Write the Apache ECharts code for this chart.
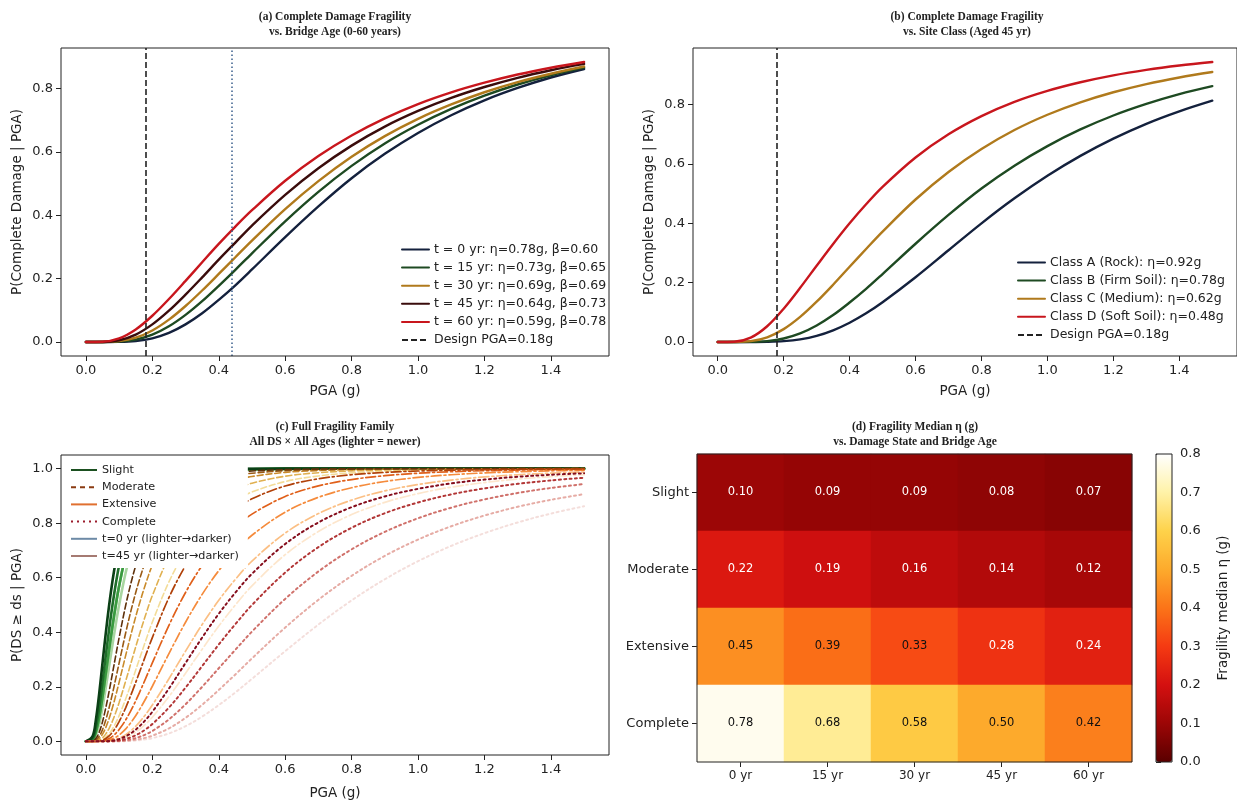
<!DOCTYPE html>
<html><head><meta charset="utf-8">
<script src="https://cdn.jsdelivr.net/npm/echarts@6/dist/echarts.min.js"></script>
<style>html,body{margin:0;padding:0;background:#fff}#c{width:1237px;height:801px}</style>
</head><body><div id="c"></div>
<script>
// ---------------- DATA ----------------
const PGA_AB = [0, 0.05, 0.10, 0.15, 0.20, 0.25, 0.30, 0.35, 0.40, 0.45, 0.50, 0.60, 0.70, 0.80, 0.90, 1.00, 1.10, 1.20, 1.30, 1.40, 1.50];
const X_TICKS = [0, 0.2, 0.4, 0.6, 0.8, 1.0, 1.2, 1.4];
const DESIGN_PGA = 0.18;
const REF_PGA = 0.44;

// (a) age curves
const AGE_LABELS_A = ['t = 0 yr: η=0.78g, β=0.60', 't = 15 yr: η=0.73g, β=0.65', 't = 30 yr: η=0.69g, β=0.69', 't = 45 yr: η=0.64g, β=0.73', 't = 60 yr: η=0.59g, β=0.78'];
const A_T0  = [0, 0.0000, 0.0003, 0.003, 0.0117, 0.0288, 0.0556, 0.0907, 0.133, 0.179, 0.229, 0.331, 0.428, 0.517, 0.594, 0.660, 0.716, 0.763, 0.802, 0.835, 0.862];
const A_T15 = [0, 0.0000, 0.0011, 0.0075, 0.0233, 0.0497, 0.0857, 0.129, 0.1775, 0.228, 0.280, 0.381, 0.474, 0.556, 0.627, 0.686, 0.736, 0.778, 0.813, 0.842, 0.866];
const A_T30 = [0, 0.0001, 0.0026, 0.0135, 0.0364, 0.0706, 0.1137, 0.1626, 0.2148, 0.2676, 0.320, 0.4196, 0.508, 0.585, 0.650, 0.7046, 0.750, 0.7885, 0.8205, 0.847, 0.8697];
const A_T45 = [0, 0.0002, 0.0055, 0.0234, 0.0556, 0.0989, 0.1496, 0.204, 0.260, 0.314, 0.3677, 0.4645, 0.5485, 0.620, 0.680, 0.7294, 0.7707, 0.805, 0.834, 0.858, 0.878];
const A_T60 = [0, 0.0008, 0.0114, 0.0396, 0.0829, 0.1357, 0.193, 0.2517, 0.3096, 0.3643, 0.416, 0.509, 0.587, 0.652, 0.706, 0.751, 0.788, 0.8186, 0.8445, 0.866, 0.884];

// (b) site classes
const SITE_LABELS = ['Class A (Rock): η=0.92g', 'Class B (Firm Soil): η=0.78g', 'Class C (Medium): η=0.62g', 'Class D (Soft Soil): η=0.48g'];
const B_A = [0, 0, 0.0000, 0.0005, 0.0028, 0.0089, 0.0207, 0.0394, 0.065, 0.0966, 0.1337, 0.218, 0.309, 0.3997, 0.484, 0.560, 0.627, 0.685, 0.735, 0.777, 0.813];
const B_B = [0, 0.0000, 0.0003, 0.003, 0.0117, 0.0288, 0.0556, 0.0907, 0.133, 0.179, 0.229, 0.331, 0.428, 0.517, 0.594, 0.660, 0.716, 0.763, 0.802, 0.835, 0.862];
const B_C = [0, 0.0001, 0.0028, 0.0158, 0.0433, 0.0844, 0.1357, 0.193, 0.2534, 0.3134, 0.372, 0.480, 0.5727, 0.650, 0.714, 0.7655, 0.8073, 0.8413, 0.8689, 0.8912, 0.9096];
const B_D = [0, 0.0008, 0.0147, 0.0531, 0.1122, 0.1825, 0.2569, 0.3303, 0.400, 0.464, 0.5227, 0.6217, 0.6998, 0.761, 0.809, 0.846, 0.875, 0.8983, 0.9167, 0.9314, 0.9432];

// (c) full family
const PGA_C = [0, 0.02, 0.03, 0.04, 0.05, 0.06, 0.07, 0.08, 0.09, 0.10, 0.12, 0.14, 0.16, 0.18, 0.20, 0.25, 0.30, 0.35, 0.40, 0.45, 0.50, 0.60, 0.70, 0.80, 0.90, 1.00, 1.10, 1.20, 1.30, 1.40, 1.50];
const Y_TICKS_C = [0, 0.2, 0.4, 0.6, 0.8, 1.0];
const SLIGHT_T0  = [0, 0.0037, 0.0224, 0.0634, 0.124, 0.198, 0.276, 0.355, 0.430, 0.5, 0.620, 0.7126, 0.783, 0.8365, 0.876, 0.937, 0.9665, 0.9816, 0.9896, 0.9939, 0.9964, 0.9986, 0.9994, 0.9997, 0.9999, 0.9999, 1, 1, 1, 1, 1];
const SLIGHT_T15 = [0, 0.0061, 0.0335, 0.0882, 0.1635, 0.250, 0.3376, 0.422, 0.5, 0.5695, 0.6844, 0.769, 0.831, 0.876, 0.9084, 0.9557, 0.9776, 0.9882, 0.9935, 0.9963, 0.9979, 0.9992, 0.9997, 0.9999, 1, 1, 1, 1, 1, 1, 1];
const SLIGHT_T30 = [0, 0.0061, 0.0335, 0.0882, 0.1635, 0.250, 0.3376, 0.422, 0.5, 0.5695, 0.6844, 0.769, 0.831, 0.876, 0.9084, 0.9557, 0.9776, 0.9882, 0.9935, 0.9963, 0.9979, 0.9992, 0.9997, 0.9999, 1, 1, 1, 1, 1, 1, 1];
const SLIGHT_T45 = [0, 0.0104, 0.051, 0.124, 0.2168, 0.3163, 0.412, 0.5, 0.578, 0.645, 0.751, 0.8246, 0.876, 0.9118, 0.9367, 0.9713, 0.9862, 0.9931, 0.9964, 0.998, 0.9989, 0.9996, 0.9999, 1, 1, 1, 1, 1, 1, 1, 1];
const SLIGHT_T60 = [0, 0.0184, 0.0788, 0.1754, 0.2874, 0.399, 0.5, 0.588, 0.6624, 0.7237, 0.8157, 0.876, 0.9157, 0.9422, 0.960, 0.983, 0.9923, 0.9963, 0.9982, 0.999, 0.9995, 0.9999, 1, 1, 1, 1, 1, 1, 1, 1, 1];
const MODERATE_T0  = [0, 0.0000, 0.0004, 0.0022, 0.0068, 0.0152, 0.0282, 0.0459, 0.0682, 0.0944, 0.1565, 0.2257, 0.2977, 0.3692, 0.4372, 0.5847, 0.6974, 0.7805, 0.8406, 0.8834, 0.9145, 0.9527, 0.9731, 0.9843, 0.9906, 0.9942, 0.9964, 0.9977, 0.9985, 0.999, 0.9993];
const MODERATE_T15 = [0, 0.0001, 0.001, 0.0047, 0.013, 0.0274, 0.048, 0.0746, 0.1066, 0.1423, 0.2221, 0.3054, 0.387, 0.4641, 0.5343, 0.6765, 0.7767, 0.8457, 0.8927, 0.9245, 0.9466, 0.9723, 0.9851, 0.9917, 0.9952, 0.9972, 0.9983, 0.9989, 0.9993, 0.9996, 0.9997];
const MODERATE_T30 = [0, 0.0003, 0.0026, 0.0104, 0.0263, 0.0512, 0.0843, 0.124, 0.169, 0.2168, 0.3163, 0.4122, 0.5, 0.578, 0.6454, 0.7719, 0.8527, 0.9041, 0.9367, 0.9576, 0.9713, 0.9862, 0.9931, 0.9964, 0.998, 0.9989, 0.9993, 0.9996, 0.9997, 0.9998, 0.9999];
const MODERATE_T45 = [0, 0.0006, 0.0051, 0.0184, 0.0431, 0.0791, 0.124, 0.1754, 0.2309, 0.2874, 0.399, 0.5, 0.588, 0.6624, 0.7241, 0.8332, 0.898, 0.9366, 0.960, 0.9741, 0.9831, 0.9923, 0.9963, 0.9982, 0.999, 0.9995, 0.9997, 0.9998, 0.9999, 0.9999, 1];
const MODERATE_T60 = [0, 0.0014, 0.0104, 0.0335, 0.0721, 0.124, 0.1843, 0.2492, 0.3156, 0.3802, 0.5, 0.601, 0.6837, 0.7502, 0.8026, 0.8893, 0.9365, 0.9627, 0.9776, 0.9861, 0.9913, 0.9963, 0.9983, 0.9992, 0.9996, 0.9998, 0.9999, 0.9999, 1, 1, 1];
const EXTENSIVE_T0  = [0, 0, 0, 0, 0.0001, 0.0004, 0.001, 0.002, 0.0037, 0.0061, 0.0139, 0.0259, 0.0424, 0.0635, 0.0885, 0.164, 0.2498, 0.338, 0.4227, 0.5, 0.5702, 0.6844, 0.7694, 0.8315, 0.8764, 0.9086, 0.932, 0.949, 0.9616, 0.9708, 0.9777];
const EXTENSIVE_T15 = [0, 0, 0, 0.0001, 0.0003, 0.0009, 0.0021, 0.0041, 0.0073, 0.0117, 0.0248, 0.0439, 0.0688, 0.0989, 0.1331, 0.2296, 0.331, 0.4286, 0.5172, 0.594, 0.661, 0.7636, 0.8352, 0.8845, 0.9185, 0.9418, 0.9581, 0.9695, 0.9776, 0.9835, 0.9876];
const EXTENSIVE_T30 = [0, 0, 0, 0.0002, 0.0008, 0.0023, 0.0049, 0.0091, 0.0152, 0.0233, 0.046, 0.0765, 0.1137, 0.1562, 0.2021, 0.322, 0.4368, 0.539, 0.6259, 0.6971, 0.7558, 0.8404, 0.8949, 0.930, 0.9528, 0.9677, 0.9776, 0.9843, 0.9888, 0.992, 0.9942];
const EXTENSIVE_T45 = [0, 0, 0.0001, 0.0006, 0.002, 0.0051, 0.0104, 0.0184, 0.0293, 0.0431, 0.0791, 0.124, 0.1754, 0.2309, 0.2877, 0.4254, 0.5458, 0.645, 0.7241, 0.7852, 0.8332, 0.898, 0.9366, 0.960, 0.9742, 0.9831, 0.9887, 0.9923, 0.9948, 0.9964, 0.9974];
const EXTENSIVE_T60 = [0, 0, 0.0003, 0.0014, 0.0045, 0.0104, 0.02, 0.0335, 0.051, 0.0721, 0.124, 0.1843, 0.2492, 0.3156, 0.3806, 0.5271, 0.6447, 0.735, 0.8026, 0.8522, 0.8893, 0.9365, 0.9627, 0.9776, 0.9862, 0.9913, 0.9944, 0.9963, 0.9976, 0.9984, 0.9989];
const COMPLETE_T0  = [0, 0, 0, 0, 0, 0, 0, 0.0001, 0.0002, 0.0003, 0.0009, 0.0021, 0.0041, 0.0073, 0.0117, 0.029, 0.0556, 0.0908, 0.1329, 0.1793, 0.2293, 0.3307, 0.4282, 0.5168, 0.5944, 0.6606, 0.7167, 0.7633, 0.8026, 0.8352, 0.8621];
const COMPLETE_T15 = [0, 0, 0, 0, 0, 0, 0.0001, 0.0002, 0.0004, 0.0007, 0.0019, 0.0042, 0.0079, 0.0134, 0.0207, 0.0478, 0.0863, 0.1342, 0.1884, 0.2454, 0.3043, 0.4172, 0.5191, 0.6068, 0.6801, 0.7399, 0.7887, 0.828, 0.86, 0.8857, 0.9064];
const COMPLETE_T30 = [0, 0, 0, 0, 0, 0.0001, 0.0002, 0.0005, 0.001, 0.0017, 0.0043, 0.0089, 0.0159, 0.0256, 0.038, 0.0805, 0.1359, 0.1999, 0.268, 0.3358, 0.4025, 0.5223, 0.6229, 0.704, 0.7682, 0.818, 0.857, 0.887, 0.9107, 0.9291, 0.9434];
const COMPLETE_T45 = [0, 0, 0, 0, 0.0001, 0.0002, 0.0005, 0.0011, 0.0021, 0.0036, 0.0087, 0.0169, 0.0287, 0.0443, 0.0634, 0.124, 0.1971, 0.2759, 0.355, 0.4298, 0.5, 0.619, 0.7123, 0.7832, 0.8365, 0.876, 0.9056, 0.9276, 0.9443, 0.9569, 0.9665];
const COMPLETE_T60 = [0, 0, 0, 0, 0.0002, 0.0006, 0.0014, 0.0029, 0.0051, 0.0084, 0.0184, 0.0336, 0.0538, 0.079, 0.1082, 0.1938, 0.2874, 0.3806, 0.4677, 0.5454, 0.6145, 0.7237, 0.8026, 0.8586, 0.8981, 0.9259, 0.9458, 0.9599, 0.9702, 0.9776, 0.9831];
const C_LEGEND = ['Slight', 'Moderate', 'Extensive', 'Complete', 't=0 yr (lighter→darker)', 't=45 yr (lighter→darker)'];

// (d) medians
const DS_LABELS = ['Slight', 'Moderate', 'Extensive', 'Complete'];
const AGE_LABELS = ['0 yr', '15 yr', '30 yr', '45 yr', '60 yr'];
const ETA_SLIGHT    = [0.10, 0.09, 0.09, 0.08, 0.07];
const ETA_MODERATE  = [0.22, 0.19, 0.16, 0.14, 0.12];
const ETA_EXTENSIVE = [0.45, 0.39, 0.33, 0.28, 0.24];
const ETA_COMPLETE  = [0.78, 0.68, 0.58, 0.50, 0.42];
const CB_MIN = 0, CB_MAX = 0.8, CB_STEP = 0.1;

// ---------------- STYLE ----------------
const FONT = 'DejaVu Sans';
const INK = '#222';
const A_COLORS = ['#14213d', '#1e4a22', '#b07a1c', '#3a0c0c', '#c8161d'];
const B_COLORS = ['#14213d', '#1e4a22', '#b07a1c', '#c8161d'];
const C_STYLE = {
  Slight:    {colors: ['#a8d5a0', '#6fbf6a', '#3a9a40', '#1f6e2a', '#0b4016'], type: 'solid', width: 2.6},
  Moderate:  {colors: ['#f3dc98', '#e0b050', '#c98a2a', '#9a5a14', '#5e300a'], type: [6, 3], width: 1.6},
  Extensive: {colors: ['#fde6cc', '#fbbf84', '#f58b3c', '#e0601a', '#b04008'], type: [10, 3, 2, 3], width: 1.7},
  Complete:  {colors: ['#f4dedb', '#e6aca5', '#d0716b', '#b23636', '#850d1c'], type: [2, 3.3], width: 2}
};
const HEAT_COLORS = ['#5a0000', '#9c0606', '#d41010', '#f53a12', '#fb7418', '#fdaa2c', '#fed24a', '#fff2a8', '#ffffff'];

// ---------------- BUILD ----------------
const pairs = (xs, ys) => xs.map((x, i) => [x, ys[i]]);
const fmt1 = v => v.toFixed(1);

function valueAxis(gi, min, max, ticks, name, gap) {
  return {
    type: 'value', gridIndex: gi, min: min, max: max,
    axisLine: {show: false, onZero: false},
    axisTick: {show: true, customValues: ticks, length: 5, lineStyle: {color: INK}},
    axisLabel: {customValues: ticks, formatter: fmt1, fontSize: 13, color: INK, margin: 8, fontFamily: FONT},
    splitLine: {show: false},
    name: name, nameLocation: 'middle', nameGap: gap,
    nameTextStyle: {fontSize: 13.5, color: INK, fontFamily: FONT}
  };
}

const grids = [
  {left: 61, top: 48, width: 548, height: 308},
  {left: 693, top: 48, width: 548, height: 308},
  {left: 61, top: 455, width: 548, height: 306},
  {left: 697, top: 454, width: 435, height: 308},
  {left: 1156, top: 454, width: 16, height: 308}
].map(g => Object.assign({show: true, borderColor: INK, borderWidth: 1, backgroundColor: 'transparent', z: 10}, g));

const xAxes = [
  valueAxis(0, -0.075, 1.575, X_TICKS, 'PGA (g)', 28),
  valueAxis(1, -0.075, 1.575, X_TICKS, 'PGA (g)', 28),
  valueAxis(2, -0.075, 1.575, X_TICKS, 'PGA (g)', 31),
  {type: 'category', gridIndex: 3, data: AGE_LABELS, axisLine: {show: false},
   axisTick: {show: true, alignWithLabel: true, length: 5, lineStyle: {color: INK}},
   axisLabel: {fontSize: 12, color: INK, margin: 8, fontFamily: FONT}, splitLine: {show: false}},
  {type: 'value', gridIndex: 4, min: 0, max: 1, show: false}
];
const yAxes = [
  valueAxis(0, -0.0442, 0.9282, [0, 0.2, 0.4, 0.6, 0.8], 'P(Complete Damage | PGA)', 37),
  valueAxis(1, -0.0472, 0.9904, [0, 0.2, 0.4, 0.6, 0.8], 'P(Complete Damage | PGA)', 37),
  valueAxis(2, -0.05, 1.05, Y_TICKS_C, 'P(DS ≥ ds | PGA)', 37),
  {type: 'category', gridIndex: 3, data: DS_LABELS, inverse: true, axisLine: {show: false},
   axisTick: {show: true, alignWithLabel: true, length: 5, lineStyle: {color: INK}},
   axisLabel: {fontSize: 13, color: INK, margin: 8, fontFamily: FONT}, splitLine: {show: false}},
  {type: 'value', gridIndex: 4, min: CB_MIN, max: CB_MAX, interval: CB_STEP, position: 'right',
   axisLine: {show: false}, axisTick: {show: true, length: 5, lineStyle: {color: INK}},
   axisLabel: {formatter: fmt1, fontSize: 13, color: INK, margin: 8, fontFamily: FONT},
   splitLine: {show: false}, name: 'Fragility median η (g)', nameLocation: 'middle', nameRotate: 90,
   nameGap: 44, nameTextStyle: {fontSize: 13.5, color: INK, fontFamily: FONT}}
];

const series = [];
function curve(gi, name, xs, ys, color, width, type) {
  series.push({type: 'line', name: name, xAxisIndex: gi, yAxisIndex: gi, data: pairs(xs, ys),
    symbol: 'none', smooth: 0.35, silent: true, z: 2,
    lineStyle: {color: color, width: width, type: type || 'solid', cap: 'round'}, itemStyle: {color: color}});
}
function vline(gi, name, x, color, type, width) {
  series.push({type: 'line', name: name, xAxisIndex: gi, yAxisIndex: gi, data: [], symbol: 'none',
    lineStyle: {color: color, type: type, width: width}, itemStyle: {color: color},
    markLine: {silent: true, symbol: 'none', label: {show: false}, animation: false,
      lineStyle: {color: color, type: type, width: width}, data: [{xAxis: x}]}});
}

// (a)
[A_T0, A_T15, A_T30, A_T45, A_T60].forEach((ys, i) => curve(0, AGE_LABELS_A[i], PGA_AB, ys, A_COLORS[i], 2.4));
vline(0, 'Design PGA=0.18g', DESIGN_PGA, INK, [6, 3], 1.6);
vline(0, 'ref', REF_PGA, '#3a5f8c', [1.5, 2.5], 1.5);
// (b)
[B_A, B_B, B_C, B_D].forEach((ys, i) => curve(1, SITE_LABELS[i], PGA_AB, ys, B_COLORS[i], 2.4));
vline(1, 'Design PGA=0.18g', DESIGN_PGA, INK, [6, 3], 1.6);
// (c)
const C_GROUPS = {
  Slight: [SLIGHT_T0, SLIGHT_T15, SLIGHT_T30, SLIGHT_T45, SLIGHT_T60],
  Moderate: [MODERATE_T0, MODERATE_T15, MODERATE_T30, MODERATE_T45, MODERATE_T60],
  Extensive: [EXTENSIVE_T0, EXTENSIVE_T15, EXTENSIVE_T30, EXTENSIVE_T45, EXTENSIVE_T60],
  Complete: [COMPLETE_T0, COMPLETE_T15, COMPLETE_T30, COMPLETE_T45, COMPLETE_T60]
};
Object.keys(C_GROUPS).forEach(ds => {
  const st = C_STYLE[ds];
  C_GROUPS[ds].forEach((ys, i) => curve(2, ds + ' #' + i, PGA_C, ys, st.colors[i], st.width, st.type));
});
// (c) legend proxies
const proxy = (name, color, width, type) => series.push({type: 'line', name: name, xAxisIndex: 2, yAxisIndex: 2,
  data: [], symbol: 'none', lineStyle: {color: color, width: width, type: type}, itemStyle: {color: color}});
proxy('Slight', '#1b5020', 3, 'solid');
proxy('Moderate', '#8a3b12', 2, [5, 4]);
proxy('Extensive', '#e07030', 2.2, 'solid');
proxy('Complete', '#9b1c2c', 2.2, [2, 4]);
proxy('t=0 yr (lighter→darker)', '#6d8aa6', 1.3, 'solid');
proxy('t=45 yr (lighter→darker)', '#a57a72', 1.8, 'solid');
// (d)
const ETA_ROWS = [ETA_SLIGHT, ETA_MODERATE, ETA_EXTENSIVE, ETA_COMPLETE];
const heatData = [];
ETA_ROWS.forEach((row, r) => row.forEach((v, c) => heatData.push({value: [c, r, v], label: {color: v < 0.3 ? '#ffffff' : '#111'}})));
const HEAT_IDX = series.length;
series.push({type: 'heatmap', name: 'eta', xAxisIndex: 3, yAxisIndex: 3, data: heatData, silent: true,
  label: {show: true, formatter: p => p.value[2].toFixed(2), fontSize: 11.5, fontFamily: FONT}});
series.push({type: 'line', name: 'cb', xAxisIndex: 4, yAxisIndex: 4, data: [], symbol: 'none'});

const legendBase = {orient: 'vertical', itemWidth: 27, itemHeight: 10,
  itemStyle: {opacity: 0, borderWidth: 0},
  textStyle: {fontSize: 12.5, color: INK, fontFamily: FONT}, selectedMode: false};

const titleFont = 'bold 11.5px "Liberation Serif"';
const titles = [
  {x: 335, y: 10, t: '(a) Complete Damage Fragility\nvs. Bridge Age (0-60 years)'},
  {x: 967, y: 10, t: '(b) Complete Damage Fragility\nvs. Site Class (Aged 45 yr)'},
  {x: 335, y: 420, t: '(c) Full Fragility Family\nAll DS × All Ages (lighter = newer)'},
  {x: 915, y: 420, t: '(d) Fragility Median η (g)\nvs. Damage State and Bridge Age'}
];

const option = {
  animation: false,
  backgroundColor: '#fff',
  textStyle: {fontFamily: FONT},
  grid: grids, xAxis: xAxes, yAxis: yAxes, series: series,
  legend: [
    Object.assign({}, legendBase, {left: 401, top: 243, padding: 0, itemGap: 5.1,
      data: [...AGE_LABELS_A, 'Design PGA=0.18g']}),
    Object.assign({}, legendBase, {left: 1017, top: 256, padding: 0, itemGap: 5.1,
      data: [...SITE_LABELS, 'Design PGA=0.18g']}),
    Object.assign({}, legendBase, {left: 62, top: 456, padding: [8.5, 9, 6.5, 8], itemGap: 6.2,
      itemWidth: 26, backgroundColor: '#ffffff', z: 6,
      textStyle: {fontSize: 11.2, color: INK, fontFamily: FONT}, data: C_LEGEND})
  ],
  visualMap: {type: 'continuous', min: CB_MIN, max: CB_MAX, seriesIndex: HEAT_IDX, orient: 'vertical',
    left: 1156, top: 454, itemWidth: 16, itemHeight: 308, padding: 0, calculable: false, hoverLink: false,
    text: null, inRange: {color: HEAT_COLORS}},
  graphic: titles.map(o => ({type: 'text', x: o.x, y: o.y, silent: true,
    style: {text: o.t, font: titleFont, fill: INK, textAlign: 'center', textVerticalAlign: 'top',
      align: 'center', verticalAlign: 'top', lineHeight: 15}}))
};

const chart = echarts.init(document.getElementById('c'));
chart.setOption(option);
</script></body></html>
